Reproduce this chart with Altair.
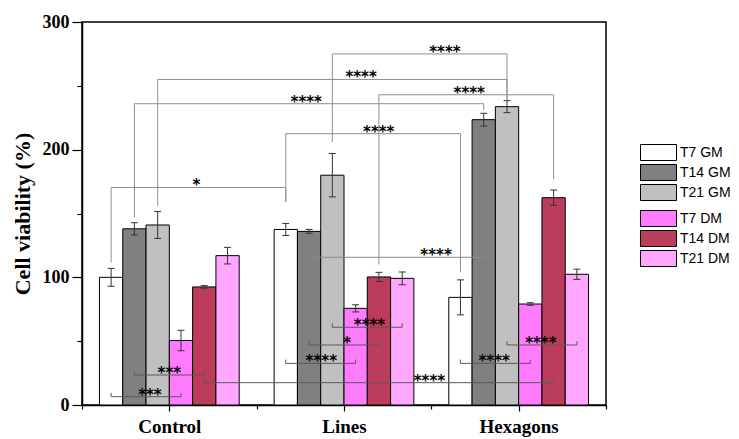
import json
import altair as alt
import pandas as pd

# ---------------- data ----------------
groups = ["Control", "Lines", "Hexagons"]
series = ["T7 GM", "T14 GM", "T21 GM", "T7 DM", "T14 DM", "T21 DM"]
colors = ["#ffffff", "#808080", "#c0c0c0", "#ff7cff", "#bc3d5b", "#ffa6ff"]

control_vals = [100, 138, 141, 50.5, 92.5, 117]
control_errs = [7, 4.8, 10.5, 8, 1, 6.5]
lines_vals = [137.5, 136, 180, 75.7, 100.3, 99.2]
lines_errs = [4.7, 1.5, 17, 2.8, 3.6, 5]
hex_vals = [84.3, 223.5, 233.7, 79.1, 162.4, 102.4]
hex_errs = [13.7, 5, 4.7, 1, 6, 4]

# significance brackets: (group index, series index) of both ends
upper_start = [(1, 2), (0, 2), (0, 1), (1, 4), (1, 0), (0, 0)]
upper_end = [(2, 2), (2, 2), (2, 1), (2, 4), (2, 0), (1, 0)]
upper_level = [275, 255, 236, 243, 212.5, 170.4]
upper_leg_start = [206, 156, 147, 110, 159, 111.5]
upper_leg_end = [239, 239, 231, 177, 104, 159]
upper_label = ["****", "****", "****", "****", "****", "*"]
upper_label_x = [1.578, 1.098, 0.784, 1.717, 1.199, 0.155]

lower_start = [(1, 1), (0, 1), (0, 0), (0, 4), (1, 0), (1, 1), (1, 2), (2, 0), (2, 2)]
lower_end = [(2, 1), (0, 4), (0, 3), (2, 4), (1, 3), (1, 4), (1, 5), (2, 3), (2, 5)]
lower_level = [115.7, 23.5, 6.5, 17.5, 32.6, 47, 60.9, 32.6, 47]
lower_label = ["****", "***", "***", "****", "****", "*", "****", "****", "****"]
lower_label_x = [1.527, 0.0, -0.111, 1.489, 0.87, 1.018, 1.146, 1.86, 2.127]

# ---------------- layout helpers ----------------
N = len(series)
SLOTS = N + 1.5          # bar slots per group band
HALF = 0.5 / SLOTS       # half bar width in x units
CAP = 0.02               # half error-cap width


def pos(g, s):
    return g + (s - (N - 1) / 2) / SLOTS


vals = [control_vals, lines_vals, hex_vals]
errs = [control_errs, lines_errs, hex_errs]
rows = []
for gi, g in enumerate(groups):
    for si, s in enumerate(series):
        c = pos(gi, si)
        rows.append(dict(group=g, series=s, value=vals[gi][si], err=errs[gi][si],
                         x=c, x0=c - HALF, x1=c + HALF,
                         lo=vals[gi][si] - errs[gi][si], hi=vals[gi][si] + errs[gi][si],
                         cl=c - CAP, cr=c + CAP, dm=si >= 3))
bars = pd.DataFrame(rows)
caps = pd.concat([bars.assign(cy=bars["lo"]), bars.assign(cy=bars["hi"])])

seg = []
for a, b, lv, l1, l2 in zip(upper_start, upper_end, upper_level, upper_leg_start, upper_leg_end):
    xa, xb = pos(*a), pos(*b)
    seg += [dict(xa=xa, xb=xb, ya=lv, yb=lv, kind="up"),
            dict(xa=xa, xb=xa, ya=l1, yb=lv, kind="up"),
            dict(xa=xb, xb=xb, ya=l2, yb=lv, kind="up")]
for i, (a, b, lv) in enumerate(zip(lower_start, lower_end, lower_level)):
    xa, xb = pos(*a), pos(*b)
    k = "mid" if i == 0 else "low"
    seg += [dict(xa=xa, xb=xb, ya=lv, yb=lv, kind=k),
            dict(xa=xa, xb=xa, ya=lv, yb=lv + 3, kind=k),
            dict(xa=xb, xb=xb, ya=lv, yb=lv + 3, kind=k)]
segs = pd.DataFrame(seg)

labels = pd.DataFrame(dict(
    lx=upper_label_x + lower_label_x,
    ly=upper_level + lower_level,
    text=upper_label + lower_label,
))

# ---------------- encodings ----------------
XS = alt.Scale(domain=[-0.5, 2.5], nice=False, zero=False)
YS = alt.Scale(domain=[0, 300], nice=False, zero=True)
SERIF = "Liberation Serif"

x_axis = alt.Axis(orient="bottom", values=[0, 1, 2],
                  labelExpr=json.dumps(groups) + "[datum.value]",
                  title=None, tickSize=6, labelPadding=6,
                  labelFont=SERIF, labelFontWeight="bold", labelFontSize=19,
                  labelColor="black")
y_axis = alt.Axis(orient="left", values=[0, 100, 200, 300], title="Cell viability (%)",
                  tickSize=10, labelPadding=3, labelFont=SERIF, labelFontWeight="bold",
                  labelFontSize=18, labelColor="black",
                  titleFont=SERIF, titleFontWeight="bold", titleFontSize=22,
                  titleColor="black", titlePadding=8)

RECT_PATH = "M-2.25,-1H2.25V1H-2.25Z"


def legend(y):
    return alt.Legend(orient="none", legendX=568, legendY=y, title=None,
                      symbolType=RECT_PATH, symbolSize=256,
                      symbolStrokeColor="black", symbolStrokeWidth=1,
                      symbolOpacity=1, labelFont="Liberation Sans", labelFontSize=14,
                      labelColor="black", labelOffset=13, rowPadding=-1, padding=0)


gm = alt.Chart(bars[~bars["dm"]]).mark_rect(stroke="black", strokeWidth=1, opacity=1).encode(
    x=alt.X("x0:Q", scale=XS, axis=x_axis),
    x2="x1:Q",
    y=alt.Y("value:Q", scale=YS, axis=y_axis),
    y2=alt.datum(0),
    color=alt.Color("series:N", scale=alt.Scale(domain=series[:3], range=colors[:3]),
                    legend=legend(122)),
)
dm = alt.Chart(bars[bars["dm"]]).mark_rect(stroke="black", strokeWidth=1, opacity=1).encode(
    x=alt.X("x0:Q", scale=XS, axis=None),
    x2="x1:Q",
    y=alt.Y("value:Q", scale=YS, axis=None),
    y2=alt.datum(0),
    color=alt.Color("series:N", scale=alt.Scale(domain=series[3:], range=colors[3:]),
                    legend=legend(188)),
)

minor = alt.Chart(bars).mark_point(opacity=0).encode(
    x=alt.X("x:Q", scale=XS, axis=alt.Axis(orient="bottom", values=[-0.5, 0.5, 1.5, 2.5],
                                           labels=False, domain=False, title=None, tickSize=4)),
    y=alt.Y("value:Q", scale=YS, axis=alt.Axis(orient="left", values=[50, 150, 250],
                                               labels=False, domain=False, title=None, tickSize=5)),
)

err_v = alt.Chart(bars).mark_rule(color="#333333", strokeWidth=1).encode(
    x=alt.X("x:Q", scale=XS, axis=None),
    y=alt.Y("lo:Q", scale=YS, axis=None),
    y2="hi:Q",
)
err_c = alt.Chart(caps).mark_rule(color="#333333", strokeWidth=1).encode(
    x=alt.X("cl:Q", scale=XS, axis=None),
    x2="cr:Q",
    y=alt.Y("cy:Q", scale=YS, axis=None),
)

brk = alt.Chart(segs).mark_rule(strokeWidth=1).encode(
    x=alt.X("xa:Q", scale=XS, axis=None),
    x2="xb:Q",
    y=alt.Y("ya:Q", scale=YS, axis=None),
    y2="yb:Q",
    stroke=alt.Stroke("kind:N", scale=alt.Scale(domain=["up", "mid", "low"],
                                                range=["#8f8f8f", "#8a8a8a", "#5a5a5a"]),
                      legend=None),
)

txt = alt.Chart(labels).mark_text(font="DejaVu Sans", fontWeight="bold", fontSize=15,
                                  color="black", baseline="alphabetic", dy=3).encode(
    x=alt.X("lx:Q", scale=XS, axis=None),
    y=alt.Y("ly:Q", scale=YS, axis=None),
    text="text:N",
)

chart = alt.layer(gm, dm, minor, err_v, err_c, brk, txt).resolve_scale(
    color="independent", stroke="independent"
).resolve_axis(x="independent", y="independent").properties(
    width=524, height=383, autosize="none",
    padding={"left": 74, "top": 14, "right": 125, "bottom": 34},
).configure_view(stroke="black", strokeWidth=1.5).configure_axis(
    domainColor="black", domainWidth=1.5, tickColor="black", tickWidth=1.2, grid=False
)

chart.save("out.html", embed_options={"renderer": "svg", "actions": False})
